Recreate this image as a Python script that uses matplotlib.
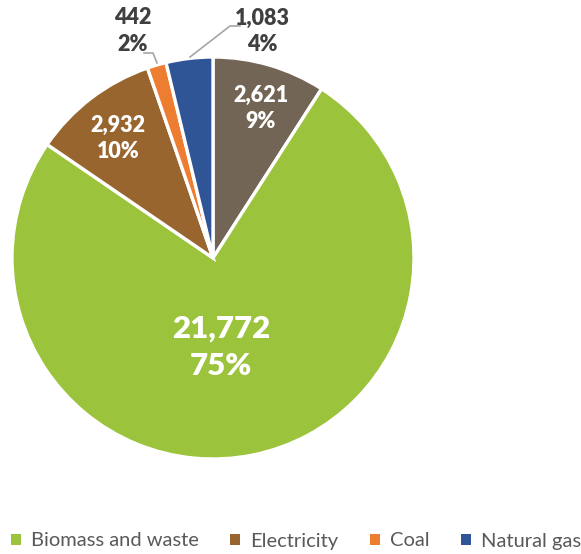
import matplotlib
matplotlib.use("Agg")
import matplotlib.pyplot as plt
from matplotlib.patches import Patch

# Final energy consumption by source (values drawn clockwise from 12 o'clock)
sources = ["Oil", "Biomass and waste", "Electricity", "Coal", "Natural gas"]
values = [2621, 21772, 2932, 442, 1083]
colors = ["#736556", "#9BC33C", "#99652F", "#ED7D31", "#2F5597"]
legend_sources = ["Biomass and waste", "Electricity", "Coal", "Natural gas"]

plt.rcParams["font.family"] = ["Lato", "DejaVu Sans"]

W, H = 581, 554
fig = plt.figure(figsize=(W / 100, H / 100), dpi=100)
fig.patch.set_facecolor("white")

cx, cy, r = 213, 258, 201
ax = fig.add_axes([(cx - r) / W, (H - cy - r) / H, 2 * r / W, 2 * r / H])

wedges, _ = ax.pie(values, colors=colors, startangle=90, counterclock=False,
                   radius=1, wedgeprops=dict(edgecolor="white", linewidth=2.4))
ax.set_xlim(-1, 1)
ax.set_ylim(-1, 1)
ax.set_aspect("equal")
ax.axis("off")

total = sum(values)

def px(x, y):
    """Convert pixel position to data coordinates of the pie axes."""
    return ((x - cx) / r, (cy - y) / r)

def label(i):
    v = values[i]
    return f"{v:,}\n{round(100 * v / total)}%"

dark = "#404040"
small = 15.5
# inside labels
ax.text(*px(261, 108), label(0), ha="center", va="center", color="white",
        fontsize=small, fontweight="heavy", linespacing=1.3)
ax.text(*px(221, 347), label(1), ha="center", va="center", color="white",
        fontsize=22.5, fontweight="heavy", linespacing=1.4)
ax.text(*px(118, 138), label(2), ha="center", va="center", color="white",
        fontsize=small, fontweight="heavy", linespacing=1.3)
# outside labels with leader lines
ax.text(*px(133, 31), label(3), ha="center", va="center", color=dark,
        fontsize=small, fontweight="heavy", linespacing=1.3, clip_on=False)
ax.text(*px(262, 31), label(4), ha="center", va="center", color=dark,
        fontsize=small, fontweight="heavy", linespacing=1.3, clip_on=False)

lc = "#A6A6A6"
l1 = [px(144, 53), px(153, 53), px(157, 63)]
ax.plot([p[0] for p in l1], [p[1] for p in l1], color=lc, lw=1.2, clip_on=False)
l2 = [px(240, 26), px(230, 26), px(190, 57)]
ax.plot([p[0] for p in l2], [p[1] for p in l2], color=lc, lw=1.2, clip_on=False)

handles = [Patch(facecolor=colors[sources.index(s)], edgecolor="none") for s in legend_sources]
fig.legend(handles, legend_sources, ncol=4, loc="center left",
           bbox_to_anchor=(-7 / W, 1 - 541 / H), frameon=False,
           handlelength=0.5, handleheight=0.5, handletextpad=0.5,
           columnspacing=1.55, fontsize=14.5, labelcolor="#595959")

fig.savefig("out.png", dpi=100, facecolor="white")
